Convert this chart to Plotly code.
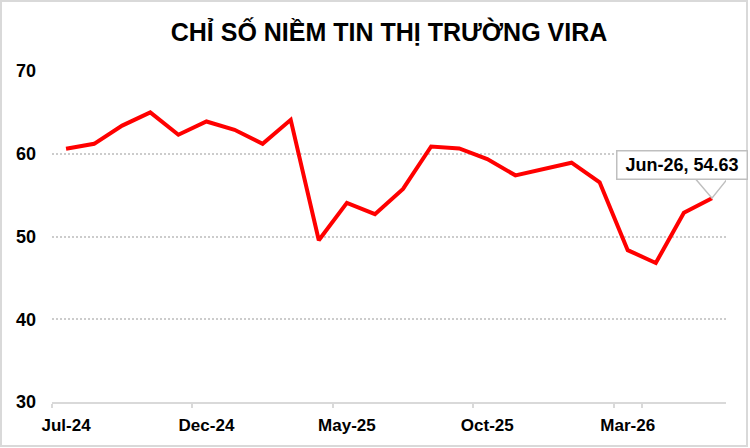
import plotly.graph_objects as go

months = ["Jul-24", "Aug-24", "Sep-24", "Oct-24", "Nov-24", "Dec-24",
          "Jan-25", "Feb-25", "Mar-25", "Apr-25", "May-25", "Jun-25",
          "Jul-25", "Aug-25", "Sep-25", "Oct-25", "Nov-25", "Dec-25",
          "Jan-26", "Feb-26", "Mar-26", "Apr-26", "May-26", "Jun-26"]
values = [60.6, 61.2, 63.4, 65.0, 62.3, 63.9,
          62.9, 61.2, 64.1, 49.55, 54.06, 52.7,
          55.75, 60.88, 60.64, 59.36, 57.39, 58.15,
          58.92, 56.55, 48.35, 46.8, 52.86, 54.63]
x_tick_labels = ["Jul-24", "Dec-24", "May-25", "Oct-25", "Mar-26"]
y_ticks = [30, 40, 50, 60, 70]
title_text = "CHỈ SỐ NIỀM TIN THỊ TRƯỜNG VIRA"

FONT = "Arial, Liberation Sans, sans-serif"
W, H = 750, 448
ml, mr, mt, mb = 52, 24, 71, 46
pw, ph = W - ml - mr, H - mt - mb

fig = go.Figure()
fig.add_trace(go.Scatter(
    x=months, y=values, mode="lines",
    line=dict(color="#ff0000", width=4),
    hoverinfo="x+y", showlegend=False,
))

last_x, last_y = months[-1], values[-1]

# callout wedge
fig.add_shape(
    type="path", xref="x", yref="y",
    xsizemode="pixel", ysizemode="pixel",
    xanchor=last_x, yanchor=last_y,
    path="M -17,20 L 0,0 L 16,20",
    line=dict(color="#bfbfbf", width=1.5),
    layer="above",
)
fig.add_annotation(
    x=last_x, y=last_y, xref="x", yref="y",
    text=f"{last_x}, {last_y:.2f}",
    showarrow=False, xshift=-29.5, yshift=33.5,
    width=129, height=27,
    bgcolor="white", bordercolor="#bfbfbf", borderwidth=1.5, borderpad=0,
    font=dict(family=FONT, size=18, color="black", weight="bold"),
)

# outer chart border
def px_x(p):
    return (p - ml) / pw

def px_y(p):
    return (H - mb - p) / ph

fig.add_shape(
    type="rect", xref="paper", yref="paper",
    x0=px_x(1), x1=px_x(747), y0=px_y(446), y1=px_y(1),
    line=dict(color="#d9d9d9", width=2), fillcolor="rgba(0,0,0,0)",
    layer="below",
)

fig.update_layout(
    width=W, height=H,
    margin=dict(l=ml, r=mr, t=mt, b=mb, autoexpand=False),
    paper_bgcolor="white", plot_bgcolor="white",
    title=dict(text=title_text, x=0.5, xref="paper", xanchor="center",
               y=1 - 32 / H, yref="container", yanchor="middle",
               font=dict(family=FONT, size=25, color="black", weight="bold")),
    xaxis=dict(
        type="category", categoryorder="array", categoryarray=months,
        range=[-0.5, len(months) - 0.5],
        tickmode="array", tickvals=x_tick_labels, ticktext=x_tick_labels,
        tickson="boundaries", tickangle=0, automargin=False,
        ticks="outside", ticklen=4, tickcolor="#d9d9d9", tickwidth=2,
        showgrid=False, showline=True, linecolor="#d9d9d9", linewidth=2,
        tickfont=dict(family=FONT, size=17, color="black", weight="bold"),
        ticklabelstandoff=7,
        zeroline=False, fixedrange=True,
    ),
    yaxis=dict(
        range=[30, 70], tickmode="array", tickvals=y_ticks,
        showgrid=True, gridcolor="#cccccc", gridwidth=2, griddash="2px,2px",
        showline=False, zeroline=False, ticks="", automargin=False,
        tickfont=dict(family=FONT, size=18, color="black", weight="bold"),
        ticklabelstandoff=15, fixedrange=True,
    ),
)

fig.write_html("out.html")
